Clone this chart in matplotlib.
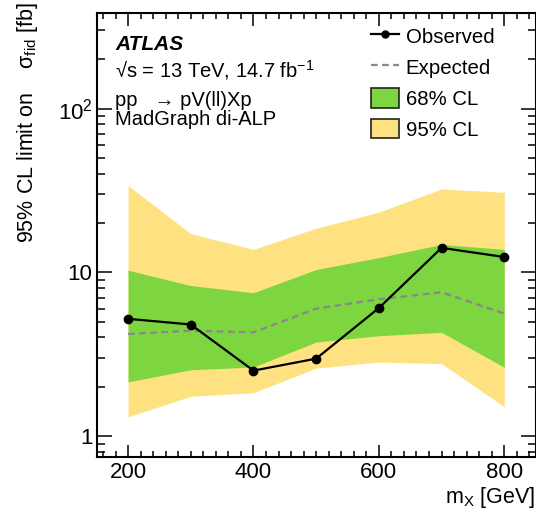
import matplotlib
matplotlib.use("Agg")
import matplotlib.pyplot as plt
from matplotlib.lines import Line2D
from matplotlib.patches import Patch
from matplotlib.ticker import MultipleLocator, LogLocator, NullFormatter

plt.rcParams['font.family'] = ['Liberation Sans', 'DejaVu Sans']
plt.rcParams['mathtext.fontset'] = 'custom'
plt.rcParams['mathtext.rm'] = 'Liberation Sans'
plt.rcParams['mathtext.it'] = 'Liberation Sans:italic'
plt.rcParams['mathtext.bf'] = 'Liberation Sans:bold'

# limits vs. mass
mass = [200, 300, 400, 500, 600, 700, 800]
observed = [5.2, 4.8, 2.51, 2.97, 6.05, 14.1, 12.4]
expected = [4.2, 4.4, 4.3, 6.0, 6.85, 7.55, 5.6]
band68_lo = [2.14, 2.54, 2.64, 3.75, 4.1, 4.3, 2.63]
band68_hi = [10.3, 8.3, 7.5, 10.4, 12.3, 14.8, 13.8]
band95_lo = [1.31, 1.75, 1.84, 2.6, 2.83, 2.77, 1.51]
band95_hi = [33.9, 17.2, 13.8, 18.6, 23.3, 32.3, 30.8]

ytick_vals = [1, 10, 100]
ytick_labels = ['1', '10', '10$^{2}$']
xtick_vals = [200, 400, 600, 800]

GREEN = '#7dd63f'
YELLOW = '#fee281'
EXP_COL = '#8a8590'

W, H = 536, 512
fig = plt.figure(figsize=(W / 100, H / 100), dpi=100)
ax = fig.add_axes([96.7 / W, 1 - 456.7 / H, (535.6 - 96.7) / W, (456.7 - 12.7) / H])

ax.fill_between(mass, band95_lo, band95_hi, color=YELLOW, lw=0, zorder=1)
ax.fill_between(mass, band68_lo, band68_hi, color=GREEN, lw=0, zorder=2)
ax.plot(mass, expected, ls=(0, (3, 2)), color=EXP_COL, lw=1.6, zorder=3)
ax.plot(mass, observed, '-o', color='k', lw=1.6, ms=6, zorder=4)

ax.set_yscale('log')
ax.set_xlim(150, 850)
ax.set_ylim(0.748, 385)

ax.set_xticks(xtick_vals)
ax.xaxis.set_minor_locator(MultipleLocator(20))
ax.set_yticks(ytick_vals)
ax.set_yticklabels(ytick_labels)
ax.yaxis.set_minor_locator(LogLocator(base=10, subs=range(2, 10)))
ax.yaxis.set_minor_formatter(NullFormatter())

ax.tick_params(which='both', direction='in', top=True, right=True, width=1.1)
ax.tick_params(axis='x', which='major', length=9, labelsize=16, pad=4)
ax.tick_params(axis='x', which='minor', length=4.5)
ax.tick_params(axis='y', which='major', length=11, labelsize=16, pad=3)
ax.tick_params(axis='y', which='minor', length=5.5)
for sp in ax.spines.values():
    sp.set_linewidth(1.5)

fig.text(28 / W, 1 - 2 / H, '95% CL limit on    σ$_{\\rm fid}$ [fb]', rotation=90,
         ha='center', va='top', fontsize=15.5)
fig.text(535 / W, 1 - 497 / H, 'm$_{\\rm X}$ [GeV]', ha='right', va='center', fontsize=15.5)

fig.text(115 / W, 1 - 50 / H, 'ATLAS', fontsize=15, fontweight='bold', style='italic',
         va='baseline')
fig.text(115 / W, 1 - 77 / H, '\u221as = 13 TeV, 14.7 fb$^{-1}$', fontsize=14.5,
         va='baseline')
fig.text(115 / W, 1 - 106 / H, 'pp   \u2192 pV(ll)Xp', fontsize=14.5, va='baseline')
fig.text(115 / W, 1 - 125 / H, 'MadGraph di-ALP', fontsize=14.5, va='baseline')

handles = [
    Line2D([], [], color='k', lw=1.6, marker='o', ms=5),
    Line2D([], [], color=EXP_COL, lw=1.6, ls=(0, (3, 2))),
    Patch(facecolor=GREEN, edgecolor='#222222', lw=1.2),
    Patch(facecolor=YELLOW, edgecolor='#222222', lw=1.2),
]
labels = ['Observed', 'Expected', '68% CL', '95% CL']
fig.legend(handles, labels, loc='upper left', bbox_to_anchor=(371 / W, 1 - 26 / H),
           frameon=False, fontsize=14.7, borderpad=0, borderaxespad=0,
           handlelength=1.35, handleheight=1.1, handletextpad=0.35, labelspacing=0.5)

fig.savefig('out.png', dpi=100)
